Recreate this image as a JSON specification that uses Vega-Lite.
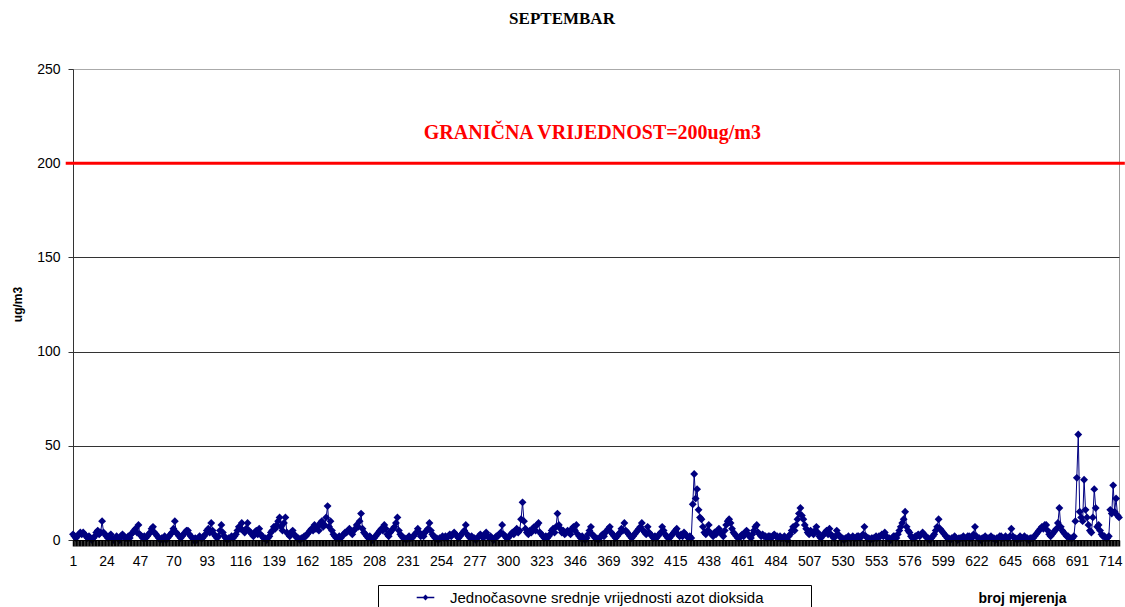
{
"$schema": "https://vega.github.io/schema/vega-lite/v6.json",
"width": 1046,
"height": 471,
"autosize": {"type": "none"},
"padding": {"left": 73, "top": 69, "right": 6, "bottom": 67},
"background": "white",
"title": {"text": "SEPTEMBAR", "font": "Liberation Serif", "fontSize": 17, "fontWeight": "bold", "color": "#000", "anchor": "middle", "frame": "group", "dx": -34, "offset": 34},
"config": {"view": {"stroke": "#999", "strokeWidth": 1}},
"datasets": {"no2": [
{"n":1,"v":3},{"n":2,"v":2},{"n":3,"v":1},{"n":4,"v":2},{"n":5,"v":3},{"n":6,"v":4},{"n":7,"v":3},{"n":8,"v":4},{"n":9,"v":3},{"n":10,"v":2},
{"n":11,"v":1},{"n":12,"v":2},{"n":13,"v":1},{"n":14,"v":0},{"n":15,"v":1},{"n":16,"v":2},{"n":17,"v":4},{"n":18,"v":5},{"n":19,"v":3},{"n":20,"v":4},
{"n":21,"v":10},{"n":22,"v":4},{"n":23,"v":3},{"n":24,"v":2},{"n":25,"v":1},{"n":26,"v":2},{"n":27,"v":3},{"n":28,"v":1},{"n":29,"v":0},{"n":30,"v":1},
{"n":31,"v":2},{"n":32,"v":1},{"n":33,"v":0},{"n":34,"v":2},{"n":35,"v":3},{"n":36,"v":2},{"n":37,"v":1},{"n":38,"v":1},{"n":39,"v":2},{"n":40,"v":1},
{"n":41,"v":3},{"n":42,"v":4},{"n":43,"v":5},{"n":44,"v":6},{"n":45,"v":4},{"n":46,"v":8},{"n":47,"v":3},{"n":48,"v":2},{"n":49,"v":1},{"n":50,"v":2},
{"n":51,"v":1},{"n":52,"v":2},{"n":53,"v":3},{"n":54,"v":4},{"n":55,"v":6},{"n":56,"v":7},{"n":57,"v":4},{"n":58,"v":3},{"n":59,"v":2},{"n":60,"v":1},
{"n":61,"v":0},{"n":62,"v":1},{"n":63,"v":1},{"n":64,"v":2},{"n":65,"v":0},{"n":66,"v":1},{"n":67,"v":2},{"n":68,"v":3},{"n":69,"v":4},{"n":70,"v":6},
{"n":71,"v":10},{"n":72,"v":4},{"n":73,"v":3},{"n":74,"v":2},{"n":75,"v":1},{"n":76,"v":2},{"n":77,"v":3},{"n":78,"v":4},{"n":79,"v":5},{"n":80,"v":5},
{"n":81,"v":3},{"n":82,"v":2},{"n":83,"v":1},{"n":84,"v":0},{"n":85,"v":1},{"n":86,"v":0},{"n":87,"v":1},{"n":88,"v":2},{"n":89,"v":1},{"n":90,"v":1},
{"n":91,"v":2},{"n":92,"v":3},{"n":93,"v":5},{"n":94,"v":6},{"n":95,"v":4},{"n":96,"v":9},{"n":97,"v":5},{"n":98,"v":3},{"n":99,"v":2},{"n":100,"v":1},
{"n":101,"v":2},{"n":102,"v":5},{"n":103,"v":8},{"n":104,"v":4},{"n":105,"v":2},{"n":106,"v":1},{"n":107,"v":0},{"n":108,"v":1},{"n":109,"v":1},{"n":110,"v":2},
{"n":111,"v":1},{"n":112,"v":2},{"n":113,"v":3},{"n":114,"v":5},{"n":115,"v":7},{"n":116,"v":6},{"n":117,"v":9},{"n":118,"v":5},{"n":119,"v":4},{"n":120,"v":6},
{"n":121,"v":9},{"n":122,"v":5},{"n":123,"v":4},{"n":124,"v":3},{"n":125,"v":2},{"n":126,"v":4},{"n":127,"v":5},{"n":128,"v":3},{"n":129,"v":6},{"n":130,"v":3},
{"n":131,"v":2},{"n":132,"v":1},{"n":133,"v":1},{"n":134,"v":0},{"n":135,"v":1},{"n":136,"v":2},{"n":137,"v":4},{"n":138,"v":5},{"n":139,"v":7},{"n":140,"v":6},
{"n":141,"v":8},{"n":142,"v":10},{"n":143,"v":12},{"n":144,"v":7},{"n":145,"v":5},{"n":146,"v":9},{"n":147,"v":12},{"n":148,"v":4},{"n":149,"v":3},{"n":150,"v":2},
{"n":151,"v":4},{"n":152,"v":5},{"n":153,"v":3},{"n":154,"v":2},{"n":155,"v":1},{"n":156,"v":1},{"n":157,"v":0},{"n":158,"v":1},{"n":159,"v":1},{"n":160,"v":2},
{"n":161,"v":2},{"n":162,"v":3},{"n":163,"v":4},{"n":164,"v":5},{"n":165,"v":6},{"n":166,"v":5},{"n":167,"v":8},{"n":168,"v":6},{"n":169,"v":7},{"n":170,"v":5},
{"n":171,"v":9},{"n":172,"v":10},{"n":173,"v":7},{"n":174,"v":8},{"n":175,"v":12},{"n":176,"v":18},{"n":177,"v":7},{"n":178,"v":10},{"n":179,"v":5},{"n":180,"v":3},
{"n":181,"v":2},{"n":182,"v":1},{"n":183,"v":1},{"n":184,"v":2},{"n":185,"v":1},{"n":186,"v":2},{"n":187,"v":3},{"n":188,"v":4},{"n":189,"v":4},{"n":190,"v":5},
{"n":191,"v":6},{"n":192,"v":4},{"n":193,"v":3},{"n":194,"v":5},{"n":195,"v":6},{"n":196,"v":8},{"n":197,"v":7},{"n":198,"v":10},{"n":199,"v":14},{"n":200,"v":6},
{"n":201,"v":4},{"n":202,"v":3},{"n":203,"v":2},{"n":204,"v":1},{"n":205,"v":2},{"n":206,"v":1},{"n":207,"v":0},{"n":208,"v":1},{"n":209,"v":2},{"n":210,"v":3},
{"n":211,"v":4},{"n":212,"v":5},{"n":213,"v":6},{"n":214,"v":5},{"n":215,"v":8},{"n":216,"v":6},{"n":217,"v":3},{"n":218,"v":2},{"n":219,"v":4},{"n":220,"v":5},
{"n":221,"v":6},{"n":222,"v":7},{"n":223,"v":9},{"n":224,"v":12},{"n":225,"v":5},{"n":226,"v":3},{"n":227,"v":2},{"n":228,"v":1},{"n":229,"v":1},{"n":230,"v":0},
{"n":231,"v":1},{"n":232,"v":2},{"n":233,"v":1},{"n":234,"v":1},{"n":235,"v":2},{"n":236,"v":3},{"n":237,"v":4},{"n":238,"v":6},{"n":239,"v":4},{"n":240,"v":2},
{"n":241,"v":3},{"n":242,"v":2},{"n":243,"v":4},{"n":244,"v":5},{"n":245,"v":6},{"n":246,"v":9},{"n":247,"v":5},{"n":248,"v":3},{"n":249,"v":2},{"n":250,"v":1},
{"n":251,"v":1},{"n":252,"v":0},{"n":253,"v":1},{"n":254,"v":1},{"n":255,"v":2},{"n":256,"v":1},{"n":257,"v":2},{"n":258,"v":1},{"n":259,"v":2},{"n":260,"v":3},
{"n":261,"v":2},{"n":262,"v":3},{"n":263,"v":4},{"n":264,"v":3},{"n":265,"v":2},{"n":266,"v":1},{"n":267,"v":2},{"n":268,"v":3},{"n":269,"v":4},{"n":270,"v":5},
{"n":271,"v":8},{"n":272,"v":3},{"n":273,"v":2},{"n":274,"v":1},{"n":275,"v":2},{"n":276,"v":1},{"n":277,"v":1},{"n":278,"v":0},{"n":279,"v":1},{"n":280,"v":2},
{"n":281,"v":3},{"n":282,"v":2},{"n":283,"v":1},{"n":284,"v":3},{"n":285,"v":4},{"n":286,"v":2},{"n":287,"v":1},{"n":288,"v":2},{"n":289,"v":1},{"n":290,"v":0},
{"n":291,"v":1},{"n":292,"v":2},{"n":293,"v":2},{"n":294,"v":3},{"n":295,"v":4},{"n":296,"v":8},{"n":297,"v":3},{"n":298,"v":2},{"n":299,"v":1},{"n":300,"v":1},
{"n":301,"v":2},{"n":302,"v":3},{"n":303,"v":4},{"n":304,"v":3},{"n":305,"v":5},{"n":306,"v":6},{"n":307,"v":4},{"n":308,"v":5},{"n":309,"v":11},{"n":310,"v":20},
{"n":311,"v":10},{"n":312,"v":6},{"n":313,"v":4},{"n":314,"v":3},{"n":315,"v":5},{"n":316,"v":4},{"n":317,"v":6},{"n":318,"v":7},{"n":319,"v":5},{"n":320,"v":8},
{"n":321,"v":9},{"n":322,"v":4},{"n":323,"v":3},{"n":324,"v":2},{"n":325,"v":1},{"n":326,"v":2},{"n":327,"v":1},{"n":328,"v":2},{"n":329,"v":3},{"n":330,"v":5},
{"n":331,"v":6},{"n":332,"v":4},{"n":333,"v":7},{"n":334,"v":14},{"n":335,"v":8},{"n":336,"v":6},{"n":337,"v":4},{"n":338,"v":5},{"n":339,"v":3},{"n":340,"v":4},
{"n":341,"v":5},{"n":342,"v":4},{"n":343,"v":3},{"n":344,"v":6},{"n":345,"v":7},{"n":346,"v":5},{"n":347,"v":8},{"n":348,"v":3},{"n":349,"v":2},{"n":350,"v":1},
{"n":351,"v":2},{"n":352,"v":1},{"n":353,"v":0},{"n":354,"v":1},{"n":355,"v":3},{"n":356,"v":5},{"n":357,"v":7},{"n":358,"v":3},{"n":359,"v":2},{"n":360,"v":1},
{"n":361,"v":1},{"n":362,"v":0},{"n":363,"v":1},{"n":364,"v":2},{"n":365,"v":3},{"n":366,"v":2},{"n":367,"v":4},{"n":368,"v":5},{"n":369,"v":6},{"n":370,"v":7},
{"n":371,"v":4},{"n":372,"v":3},{"n":373,"v":2},{"n":374,"v":1},{"n":375,"v":2},{"n":376,"v":3},{"n":377,"v":4},{"n":378,"v":6},{"n":379,"v":5},{"n":380,"v":9},
{"n":381,"v":5},{"n":382,"v":4},{"n":383,"v":3},{"n":384,"v":2},{"n":385,"v":1},{"n":386,"v":2},{"n":387,"v":3},{"n":388,"v":4},{"n":389,"v":5},{"n":390,"v":6},
{"n":391,"v":7},{"n":392,"v":9},{"n":393,"v":5},{"n":394,"v":4},{"n":395,"v":3},{"n":396,"v":7},{"n":397,"v":4},{"n":398,"v":3},{"n":399,"v":2},{"n":400,"v":1},
{"n":401,"v":2},{"n":402,"v":1},{"n":403,"v":2},{"n":404,"v":3},{"n":405,"v":4},{"n":406,"v":7},{"n":407,"v":5},{"n":408,"v":3},{"n":409,"v":2},{"n":410,"v":1},
{"n":411,"v":1},{"n":412,"v":2},{"n":413,"v":3},{"n":414,"v":4},{"n":415,"v":5},{"n":416,"v":6},{"n":417,"v":3},{"n":418,"v":2},{"n":419,"v":3},{"n":420,"v":2},
{"n":421,"v":4},{"n":422,"v":3},{"n":423,"v":2},{"n":424,"v":1},{"n":425,"v":2},{"n":426,"v":1},{"n":427,"v":19},{"n":428,"v":35},{"n":429,"v":22},{"n":430,"v":27},
{"n":431,"v":16},{"n":432,"v":12},{"n":433,"v":11},{"n":434,"v":7},{"n":435,"v":4},{"n":436,"v":3},{"n":437,"v":5},{"n":438,"v":8},{"n":439,"v":4},{"n":440,"v":3},
{"n":441,"v":2},{"n":442,"v":4},{"n":443,"v":3},{"n":444,"v":5},{"n":445,"v":6},{"n":446,"v":4},{"n":447,"v":3},{"n":448,"v":2},{"n":449,"v":5},{"n":450,"v":8},
{"n":451,"v":10},{"n":452,"v":11},{"n":453,"v":9},{"n":454,"v":6},{"n":455,"v":4},{"n":456,"v":3},{"n":457,"v":2},{"n":458,"v":1},{"n":459,"v":1},{"n":460,"v":2},
{"n":461,"v":3},{"n":462,"v":2},{"n":463,"v":4},{"n":464,"v":5},{"n":465,"v":3},{"n":466,"v":2},{"n":467,"v":1},{"n":468,"v":3},{"n":469,"v":5},{"n":470,"v":7},
{"n":471,"v":8},{"n":472,"v":4},{"n":473,"v":3},{"n":474,"v":2},{"n":475,"v":3},{"n":476,"v":2},{"n":477,"v":2},{"n":478,"v":1},{"n":479,"v":2},{"n":480,"v":2},
{"n":481,"v":1},{"n":482,"v":2},{"n":483,"v":3},{"n":484,"v":2},{"n":485,"v":2},{"n":486,"v":1},{"n":487,"v":2},{"n":488,"v":1},{"n":489,"v":1},{"n":490,"v":2},
{"n":491,"v":1},{"n":492,"v":0},{"n":493,"v":2},{"n":494,"v":3},{"n":495,"v":5},{"n":496,"v":7},{"n":497,"v":5},{"n":498,"v":8},{"n":499,"v":11},{"n":500,"v":14},
{"n":501,"v":17},{"n":502,"v":13},{"n":503,"v":11},{"n":504,"v":8},{"n":505,"v":6},{"n":506,"v":4},{"n":507,"v":3},{"n":508,"v":5},{"n":509,"v":4},{"n":510,"v":3},
{"n":511,"v":5},{"n":512,"v":7},{"n":513,"v":4},{"n":514,"v":2},{"n":515,"v":1},{"n":516,"v":2},{"n":517,"v":3},{"n":518,"v":4},{"n":519,"v":5},{"n":520,"v":3},
{"n":521,"v":6},{"n":522,"v":3},{"n":523,"v":2},{"n":524,"v":1},{"n":525,"v":2},{"n":526,"v":5},{"n":527,"v":3},{"n":528,"v":2},{"n":529,"v":1},{"n":530,"v":1},
{"n":531,"v":0},{"n":532,"v":1},{"n":533,"v":1},{"n":534,"v":2},{"n":535,"v":1},{"n":536,"v":1},{"n":537,"v":2},{"n":538,"v":1},{"n":539,"v":1},{"n":540,"v":2},
{"n":541,"v":2},{"n":542,"v":1},{"n":543,"v":2},{"n":544,"v":3},{"n":545,"v":7},{"n":546,"v":2},{"n":547,"v":1},{"n":548,"v":1},{"n":549,"v":0},{"n":550,"v":1},
{"n":551,"v":1},{"n":552,"v":1},{"n":553,"v":2},{"n":554,"v":1},{"n":555,"v":2},{"n":556,"v":2},{"n":557,"v":3},{"n":558,"v":2},{"n":559,"v":4},{"n":560,"v":2},
{"n":561,"v":1},{"n":562,"v":1},{"n":563,"v":0},{"n":564,"v":1},{"n":565,"v":2},{"n":566,"v":2},{"n":567,"v":1},{"n":568,"v":3},{"n":569,"v":5},{"n":570,"v":7},
{"n":571,"v":9},{"n":572,"v":11},{"n":573,"v":15},{"n":574,"v":7},{"n":575,"v":5},{"n":576,"v":4},{"n":577,"v":2},{"n":578,"v":1},{"n":579,"v":1},{"n":580,"v":2},
{"n":581,"v":2},{"n":582,"v":3},{"n":583,"v":2},{"n":584,"v":3},{"n":585,"v":4},{"n":586,"v":3},{"n":587,"v":2},{"n":588,"v":1},{"n":589,"v":1},{"n":590,"v":0},
{"n":591,"v":1},{"n":592,"v":2},{"n":593,"v":3},{"n":594,"v":5},{"n":595,"v":7},{"n":596,"v":11},{"n":597,"v":6},{"n":598,"v":5},{"n":599,"v":4},{"n":600,"v":3},
{"n":601,"v":2},{"n":602,"v":1},{"n":603,"v":1},{"n":604,"v":0},{"n":605,"v":1},{"n":606,"v":1},{"n":607,"v":2},{"n":608,"v":1},{"n":609,"v":0},{"n":610,"v":1},
{"n":611,"v":1},{"n":612,"v":1},{"n":613,"v":2},{"n":614,"v":1},{"n":615,"v":1},{"n":616,"v":2},{"n":617,"v":2},{"n":618,"v":1},{"n":619,"v":1},{"n":620,"v":3},
{"n":621,"v":7},{"n":622,"v":2},{"n":623,"v":1},{"n":624,"v":1},{"n":625,"v":0},{"n":626,"v":1},{"n":627,"v":1},{"n":628,"v":2},{"n":629,"v":1},{"n":630,"v":1},
{"n":631,"v":1},{"n":632,"v":2},{"n":633,"v":1},{"n":634,"v":1},{"n":635,"v":0},{"n":636,"v":1},{"n":637,"v":1},{"n":638,"v":2},{"n":639,"v":2},{"n":640,"v":1},
{"n":641,"v":1},{"n":642,"v":2},{"n":643,"v":1},{"n":644,"v":1},{"n":645,"v":2},{"n":646,"v":6},{"n":647,"v":2},{"n":648,"v":1},{"n":649,"v":1},{"n":650,"v":0},
{"n":651,"v":1},{"n":652,"v":2},{"n":653,"v":1},{"n":654,"v":1},{"n":655,"v":2},{"n":656,"v":1},{"n":657,"v":1},{"n":658,"v":0},{"n":659,"v":1},{"n":660,"v":1},
{"n":661,"v":1},{"n":662,"v":2},{"n":663,"v":3},{"n":664,"v":4},{"n":665,"v":5},{"n":666,"v":6},{"n":667,"v":7},{"n":668,"v":6},{"n":669,"v":8},{"n":670,"v":8},
{"n":671,"v":5},{"n":672,"v":3},{"n":673,"v":2},{"n":674,"v":3},{"n":675,"v":4},{"n":676,"v":5},{"n":677,"v":6},{"n":678,"v":9},{"n":679,"v":17},{"n":680,"v":7},
{"n":681,"v":5},{"n":682,"v":4},{"n":683,"v":3},{"n":684,"v":2},{"n":685,"v":2},{"n":686,"v":1},{"n":687,"v":1},{"n":688,"v":1},{"n":689,"v":2},{"n":690,"v":10},
{"n":691,"v":33},{"n":692,"v":56},{"n":693,"v":15},{"n":694,"v":12},{"n":695,"v":10},{"n":696,"v":32},{"n":697,"v":16},{"n":698,"v":12},{"n":699,"v":8},{"n":700,"v":5},
{"n":701,"v":4},{"n":702,"v":12},{"n":703,"v":27},{"n":704,"v":17},{"n":705,"v":7},{"n":706,"v":8},{"n":707,"v":5},{"n":708,"v":3},{"n":709,"v":2},{"n":710,"v":2},
{"n":711,"v":1},{"n":712,"v":1},{"n":713,"v":2},{"n":714,"v":16},{"n":715,"v":14},{"n":716,"v":29},{"n":717,"v":15},{"n":718,"v":22},{"n":719,"v":13},{"n":720,"v":12}
]},
"layer": [
{
"data": {"name": "no2"},
"mark": {"type": "line", "strokeWidth": 1, "point": {"shape": "diamond", "size": 62, "filled": true, "opacity": 1}},
"encoding": {
"x": {"field": "n", "type": "quantitative", "scale": {"domain": [1, 720], "nice": false, "zero": false},
"axis": {"tickCount": 720, "labelExpr": "(datum.value - 1) % 23 == 0 ? datum.label : ''", "labelOverlap": false, "labelFlush": false, "grid": false, "zindex": 1, "ticks": true, "tickOpacity": 1, "domainColor": "#000", "tickColor": "#000", "tickSize": 6, "tickWidth": 1.5, "tickRound": false, "tickExtra": false, "labelFont": "Liberation Sans", "labelFontSize": 14, "labelColor": "#000", "labelPadding": 8,
"title": "broj mjerenja", "titleFont": "Liberation Sans", "titleFontSize": 14, "titleFontWeight": "bold", "titleColor": "#000", "titleX": 949, "titleY": 58, "titleBaseline": "middle", "titleAlign": "center"}},
"y": {"field": "v", "type": "quantitative", "scale": {"domain": [0, 250], "nice": false},
"axis": {"values": [0, 50, 100, 150, 200, 250], "grid": true, "gridColor": {"condition": {"test": "datum.value == 250", "value": "#aaaaaa"}, "value": "#333333"}, "gridWidth": 1, "domainColor": "#333", "tickColor": "#333", "tickSize": 5, "labelFont": "Liberation Sans", "labelFontSize": 14, "labelColor": "#000", "labelPadding": 8,
"title": "ug/m3", "titleFont": "Liberation Sans", "titleFontSize": 12, "titleFontWeight": "bold", "titleColor": "#000", "titleX": -56, "titleY": 235, "titleBaseline": "middle", "titleAlign": "center", "titleAngle": 270}},
"color": {"datum": "Jednočasovne srednje vrijednosti azot dioksida", "type": "nominal", "scale": {"range": ["#000080"]},
"legend": {"orient": "none", "legendX": 305, "legendY": 516, "title": null, "strokeColor": "#000", "fillColor": "#fff", "padding": 5, "symbolType": "M-2.2,0L2.2,0M-0.5,0L0,-0.5L0.5,0L0,0.5Z", "symbolSize": 64, "symbolStrokeWidth": 1.3, "symbolFillColor": "#000080", "symbolStrokeColor": "#000080", "symbolOffset": 35, "labelOffset": 17, "labelFont": "Liberation Sans", "labelFontSize": 15, "labelColor": "#000", "labelLimit": 0, "labelExpr": "datum.label + '\\u00a0\\u00a0\\u00a0\\u00a0\\u00a0\\u00a0\\u00a0\\u00a0\\u00a0\\u00a0\\u200b'"}}
}
},
{
"data": {"values": [{}]},
"mark": {"type": "rule", "color": "#ff0000", "strokeWidth": 3},
"encoding": {"y": {"datum": 200, "type": "quantitative"}, "x": {"datum": -4, "type": "quantitative"}, "x2": {"datum": 724}}
},
{
"data": {"values": [{}]},
"mark": {"type": "text", "color": "#ff0000", "font": "Liberation Serif", "fontSize": 20, "fontWeight": "bold", "align": "center", "baseline": "middle"},
"encoding": {"x": {"datum": 358, "type": "quantitative"}, "y": {"datum": 216, "type": "quantitative"}, "text": {"value": "GRANIČNA VRIJEDNOST=200ug/m3"}}
}
]
}
